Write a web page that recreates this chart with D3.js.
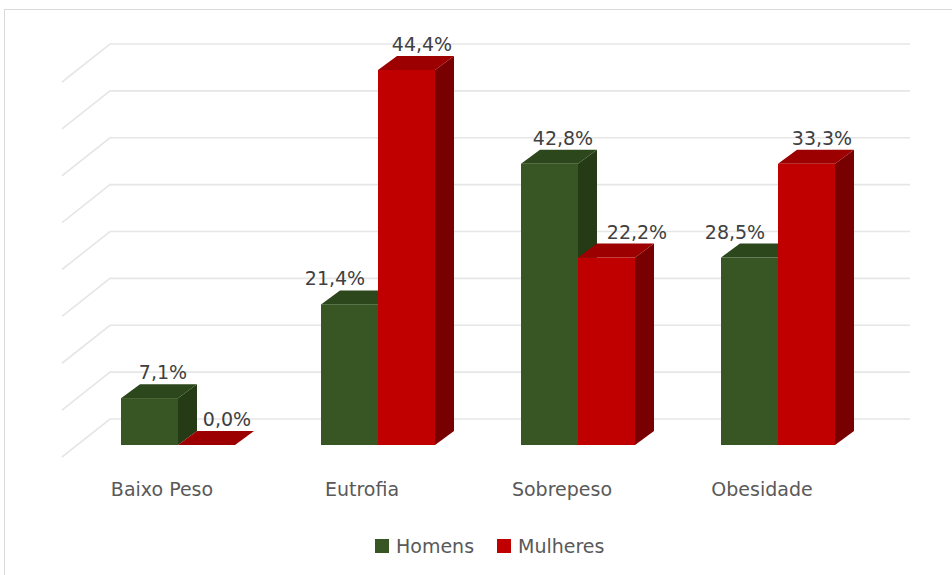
<!DOCTYPE html>
<html><head><meta charset="utf-8">
<script src="https://cdn.jsdelivr.net/npm/d3@7"></script>
<style>html,body{margin:0;padding:0;background:#fff;}svg{display:block;}</style>
</head><body>
<svg id="chart" width="952" height="575"></svg>
<script>
// ---- data ----
const categories = ["Baixo Peso", "Eutrofia", "Sobrepeso", "Obesidade"];
const seriesNames = ["Homens", "Mulheres"];
// bar heights (counts) as drawn in the chart
const homensCounts = [1, 3, 6, 4];
const mulheresCounts = [0, 8, 4, 6];
// data labels shown above the bars
const homensLabels = ["7,1%", "21,4%", "42,8%", "28,5%"];
const mulheresLabels = ["0,0%", "44,4%", "22,2%", "33,3%"];
const gridTicks = [0, 1, 2, 3, 4, 5, 6, 7, 8];

const colors = {
  Homens: {front: "#375623", top: "#2c471b", side: "#243b16"},
  Mulheres: {front: "#c00000", top: "#9c0000", side: "#780000"}
};
const FONT = "'DejaVu Sans', sans-serif";

const svg = d3.select("#chart");
// outer chart border
svg.append("rect").attr("x", 4.5).attr("y", 9.5).attr("width", 960).attr("height", 600)
  .attr("fill", "none").attr("stroke", "#d9d9d9").attr("stroke-width", 1);

// scales
const y = d3.scaleLinear().domain([0, 8]).range([419, 44]); // back wall
const x0 = d3.scaleBand().domain(categories).range([78, 878]);
const x1 = d3.scaleBand().domain(seriesNames).range([0, 114]);

const wallLeft = 110, wallRight = 910;
const floorDX = -48, floorDY = 38;    // side-wall depth
const barBaseOffset = 26;              // front face baseline below back wall baseline
const depthDX = 19, depthDY = -14;     // bar depth

// gridlines
const grid = svg.append("g").attr("stroke", "#e6e6e6").attr("stroke-width", 1.6).attr("fill", "none");
gridTicks.forEach(t => {
  const yy = y(t);
  grid.append("path").attr("d", `M${wallLeft + floorDX},${yy + floorDY}L${wallLeft},${yy}L${wallRight},${yy}`);
});

const values = {Homens: homensCounts, Mulheres: mulheresCounts};
const labels = {Homens: homensLabels, Mulheres: mulheresLabels};

const bars = svg.append("g");
const labelG = svg.append("g").attr("font-family", FONT).attr("font-size", 19).attr("fill", "#404040");

categories.forEach((cat, i) => {
  const groupLeft = x0(cat) + x0.bandwidth() / 2 - 57;
  seriesNames.forEach((s, si) => {
    const v = values[s][i];
    const xl = groupLeft + x1(s);
    const w = x1.bandwidth();
    const yb = y(0) + barBaseOffset;
    const yt = y(v) + barBaseOffset;
    const c = colors[s];
    const g = bars.append("g");
    // side face
    g.append("path").attr("fill", c.side)
      .attr("d", `M${xl + w},${yt}L${xl + w + depthDX},${yt + depthDY}L${xl + w + depthDX},${yb + depthDY}L${xl + w},${yb}Z`);
    // top face
    g.append("path").attr("fill", c.top)
      .attr("d", `M${xl},${yt}L${xl + depthDX},${yt + depthDY}L${xl + w + depthDX},${yt + depthDY}L${xl + w},${yt}Z`);
    // front face
    if (yb - yt > 0) {
      g.append("rect").attr("x", xl).attr("y", yt).attr("width", w).attr("height", yb - yt).attr("fill", c.front);
    }
    // label (nudged away from the neighbouring bar like the original)
    const other = values[seriesNames[1 - si]][i];
    let cx = xl + w / 2 + depthDX / 2;
    if (s === "Homens") cx += (other > v) ? -24 : 4;
    else cx += (v === 0) ? 11 : (other > v ? 21 : 6);
    labelG.append("text").attr("x", cx).attr("y", yt + depthDY - 5)
      .attr("text-anchor", "middle").text(labels[s][i]);
  });
});

// category axis labels
const axisG = svg.append("g").attr("font-family", FONT).attr("font-size", 19).attr("fill", "#595959");
categories.forEach(cat => {
  axisG.append("text").attr("x", x0(cat) + x0.bandwidth() / 2 - 16).attr("y", 496)
    .attr("text-anchor", "middle").text(cat);
});

// legend
const legend = svg.append("g").attr("font-family", FONT).attr("font-size", 19).attr("fill", "#595959");
const legendX = [375, 497];
seriesNames.forEach((s, i) => {
  legend.append("rect").attr("x", legendX[i]).attr("y", 539).attr("width", 14).attr("height", 14).attr("fill", colors[s].front);
  legend.append("text").attr("x", legendX[i] + 21).attr("y", 553).text(s);
});
</script>
</body></html>
